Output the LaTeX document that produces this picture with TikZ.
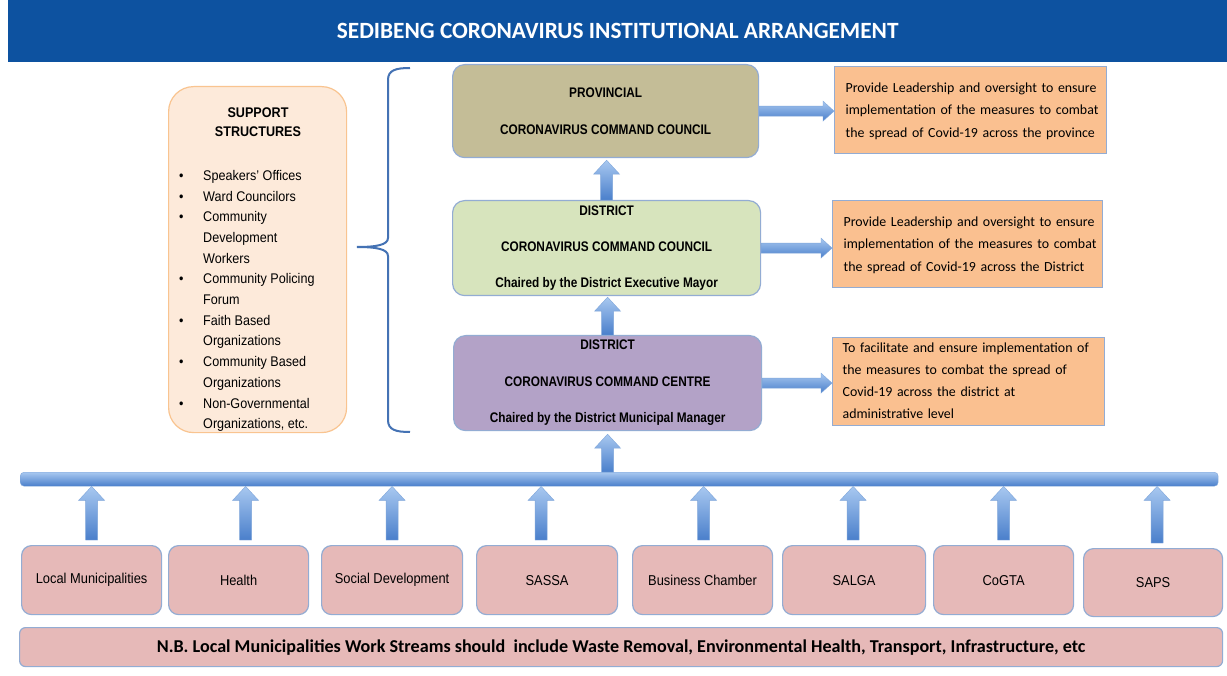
\documentclass[tikz,border=0pt]{standalone}
\usepackage{fontspec}
\setmainfont{Carlito}
\newfontfamily\arialn[FakeStretch=0.85]{Liberation Sans}
\newfontfamily\arialm[FakeStretch=0.9]{Liberation Sans}
\usetikzlibrary{calc}
\definecolor{titleblue}{HTML}{0D52A0}
\definecolor{boxline}{HTML}{93ACD3}
\definecolor{provfill}{HTML}{C4BD97}
\definecolor{dccfill}{HTML}{D7E4BD}
\definecolor{centrefill}{HTML}{B3A2C7}
\definecolor{rfill}{HTML}{FAC090}
\definecolor{suppfill}{HTML}{FDEADA}
\definecolor{suppline}{HTML}{F9C490}
\definecolor{pinkfill}{HTML}{E6B9B8}
\definecolor{arrlight}{HTML}{A8C8F0}
\definecolor{arrdark}{HTML}{4A7FCB}
\definecolor{arrline}{HTML}{7FA6DA}
\definecolor{bracecol}{HTML}{4472B4}
\newcommand\upblock[2]{%
  \path[top color=arrlight, bottom color=arrdark, draw=arrline, line width=0.4pt]
    let \p1=(#1), \p2=(#2) in
    (\x1-6pt,\y1) -- (\x1-6pt,\y2-14pt) -- (\x1-13pt,\y2-14pt) -- (\x1,\y2)
    -- (\x1+13pt,\y2-14pt) -- (\x1+6pt,\y2-14pt) -- (\x1+6pt,\y1) -- cycle;}
\newcommand\rightblock[2]{%
  \path[top color=arrlight, bottom color=arrdark, draw=arrline, line width=0.4pt]
    let \p1=(#1), \p2=(#2) in
    (\x1,\y1+5pt) -- (\x2-11pt,\y1+5pt) -- (\x2-11pt,\y1+10pt) -- (\x2,\y1)
    -- (\x2-11pt,\y1-10pt) -- (\x2-11pt,\y1-5pt) -- (\x1,\y1-5pt) -- cycle;}
\newcommand\rboxtext[2]{\hspace*{#1}\begin{tabular}{@{}l@{}}#2\end{tabular}}
\begin{document}
\begin{tikzpicture}[x=1pt,y=-1pt,
  midbox/.style={draw=boxline, line width=1.2pt, rounded corners=12pt, inner sep=0pt,
    anchor=north west, align=center, font=\arialn\bfseries\fontsize{13.9}{37}\selectfont},
  rbox/.style={draw=boxline, line width=1.2pt, fill=rfill, inner xsep=0pt, inner ysep=0pt,
    anchor=north west, align=left, font=\fontsize{13.9}{22.5}\selectfont},
  bbox/.style={draw=boxline, line width=1.2pt, fill=pinkfill, rounded corners=10pt,
    inner sep=0pt, anchor=north west, minimum height=69pt,
    font=\arialm\fontsize{14.3}{16}\selectfont}]
\useasboundingbox (0,0) rectangle (1227,676);
\fill[white] (0,0) rectangle (1227,676);
% title
\node[fill=titleblue, minimum width=1219pt, minimum height=62pt, anchor=north west,
  inner sep=0pt, text=white, font=\bfseries\fontsize{23.3}{26}\selectfont] (title) at (8,0)
  {SEDIBENG CORONAVIRUS INSTITUTIONAL ARRANGEMENT};
% support structures
\node[draw=suppline, fill=suppfill, line width=1.2pt, rounded corners=25pt,
  minimum width=178pt, minimum height=346pt, anchor=north west, inner sep=0pt] (supp) at (168,86) {};
\node[font=\arialm\bfseries\fontsize{14}{19}\selectfont, align=center] (supptitle) at (258,122.5)
  {SUPPORT\\STRUCTURES};
\node[font=\arialm\fontsize{14}{20.7}\selectfont, align=left, anchor=north west, inner sep=0pt]
  (supplist) at (179,170) {%
  \makebox[24pt][l]{\textbullet}Speakers’ Offices\\
  \makebox[24pt][l]{\textbullet}Ward Councilors\\
  \makebox[24pt][l]{\textbullet}Community\\
  \makebox[24pt][l]{}Development\\
  \makebox[24pt][l]{}Workers\\
  \makebox[24pt][l]{\textbullet}Community Policing\\
  \makebox[24pt][l]{}Forum\\
  \makebox[24pt][l]{\textbullet}Faith Based\\
  \makebox[24pt][l]{}Organizations\\
  \makebox[24pt][l]{\textbullet}Community Based\\
  \makebox[24pt][l]{}Organizations\\
  \makebox[24pt][l]{\textbullet}Non-Governmental\\
  \makebox[24pt][l]{}Organizations, etc.};
% brace
\coordinate (bt) at (410,68);
\coordinate (bm) at (357,247);
\coordinate (bb) at (410,432);
\draw[bracecol, line width=2pt] (bt) .. controls (396,68) and (388,70) .. (388,80)
  -- (388,238) .. controls (388,245) and (376,247) .. (bm)
  .. controls (376,247) and (388,249) .. (388,256)
  -- (388,420) .. controls (388,430) and (396,432) .. (bb);
% middle column
\node[midbox, fill=provfill, minimum width=306pt, minimum height=93pt] (prov) at (452,64)
  {PROVINCIAL\\CORONAVIRUS COMMAND COUNCIL};
\node[midbox, fill=dccfill, minimum width=308pt, minimum height=95pt, font=\arialn\bfseries\fontsize{13.9}{36}\selectfont] (dcc) at (452,200)
  {DISTRICT\\CORONAVIRUS COMMAND COUNCIL\\Chaired by the District Executive Mayor};
\node[midbox, fill=centrefill, minimum width=308pt, minimum height=95pt, font=\arialn\bfseries\fontsize{13.9}{36.5}\selectfont] (centre) at (453,335)
  {DISTRICT\\CORONAVIRUS COMMAND CENTRE\\Chaired by the District Municipal Manager};
% right boxes
\node[rbox, minimum width=272pt, minimum height=87pt, text width=272pt] (r1) at (834,66)
  {\rboxtext{11pt}{Provide Leadership and oversight to ensure\\implementation of the measures to combat\\the spread of Covid-19 across the province}};
\node[rbox, minimum width=270pt, minimum height=87pt, text width=270pt] (r2) at (832,200)
  {\rboxtext{11pt}{Provide Leadership and oversight to ensure\\implementation of the measures to combat\\the spread of Covid-19 across the District}};
\node[rbox, minimum width=272pt, minimum height=86pt, text width=272pt, font=\fontsize{13.9}{22}\selectfont] (r3) at (832,337)
  {\rboxtext{10pt}{To facilitate and ensure implementation of\\the measures to combat the spread of\\Covid-19 across the district at\\administrative level}};
% bar
\node[top color=arrlight, bottom color=arrdark, draw=arrline, line width=0.4pt, rounded corners=4pt,
  minimum width=1198pt, minimum height=14pt, inner sep=0pt, anchor=north west] (bar) at (20,472) {};
% bottom boxes
\node[bbox, minimum width=140pt] (b1) at (21,545) {Local Municipalities};
\node[bbox, minimum width=140pt] (b2) at (168,545) {Health};
\node[bbox, minimum width=141pt] (b3) at (321,545) {Social Development};
\node[bbox, minimum width=141pt] (b4) at (476,545) {SASSA};
\node[bbox, minimum width=140pt] (b5) at (632,545) {Business Chamber};
\node[bbox, minimum width=143pt] (b6) at (782,545) {SALGA};
\node[bbox, minimum width=140pt] (b7) at (933,545) {CoGTA};
\node[bbox, minimum width=139pt, minimum height=68pt] (b8) at (1083,548) {SAPS};
% N.B.
\node[draw=boxline, line width=1.2pt, fill=pinkfill, rounded corners=6pt, minimum width=1203pt,
  minimum height=39pt, inner sep=0pt, anchor=north west, font=\bfseries\fontsize{18.1}{21}\selectfont] (nb) at (19,627)
  {N.B. Local Municipalities Work Streams should\ \ include Waste Removal, Environmental Health, Transport, Infrastructure, etc};
% arrows
\upblock{dcc.north}{$(prov.south)+(0,2)$}
\upblock{centre.north}{$(dcc.south)+(0,1)$}
\upblock{bar.north -| centre.south}{$(centre.south)+(0,3)$}
\rightblock{prov.east}{r1.west |- prov.east}
\rightblock{dcc.east}{r2.west |- dcc.east}
\rightblock{centre.east}{r3.west |- centre.east}
\foreach \k/\dx in {1/0,2/7,3/0,4/-6,5/1,6/-1,7/0,8/4}{
  \coordinate (a\k) at ($(b\k.north)+(\dx,-5)$);
  \coordinate (t\k) at (a\k |- bar.south);
  \upblock{a\k}{t\k}
}
\end{tikzpicture}
\end{document}
